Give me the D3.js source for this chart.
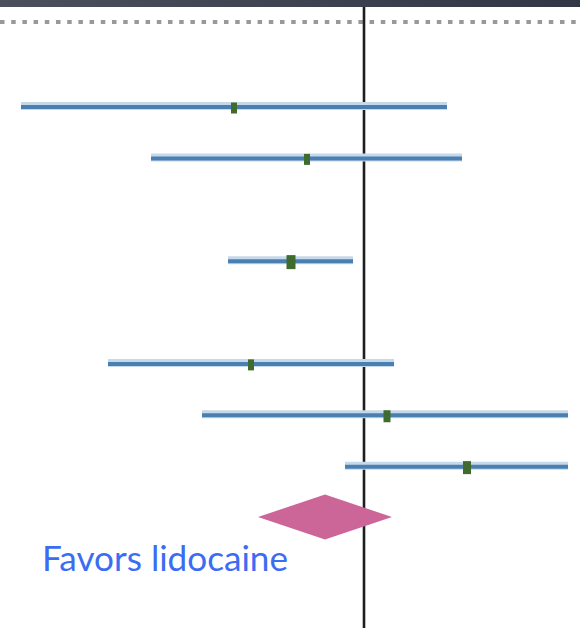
<!DOCTYPE html>
<html>
<head>
<meta charset="utf-8">
<script src="https://cdn.jsdelivr.net/npm/d3@7"></script>
<style>
  html, body { margin: 0; padding: 0; background: #ffffff; }
  svg { display: block; }
</style>
</head>
<body>
<svg id="chart" width="580" height="628"></svg>
<script>
// Study rows (row slot, effect estimate, lower and upper 95% CI, weight %)
const rowSlot  = [0, 1, 3, 5, 6, 7];
const estimate = [-2.60, -1.14, -1.46, -2.26, 0.46, 2.06];
const lower    = [-6.86, -4.26, -2.72, -5.12, -3.24, -0.38];
const upper    = [ 1.66,  1.96, -0.22,  0.60, 4.08, 4.08];
const weight   = [6, 6, 9, 6, 7, 8];

// Pooled estimate (diamond)
const pooledSlot = 8;
const pooled = { est: -0.78, lo: -2.12, hi: 0.56 };

const favorsLabel = "Favors lidocaine";

const W = 580, H = 628;
const svg = d3.select("#chart");

const x = d3.scaleLinear().domain([-7.28, 4.32]).range([0, W]);
const y = d3.scaleLinear().domain([0, 8]).range([106, 517]);
const boxW = d3.scaleLinear().domain([6, 9]).range([6, 9]);

// Header band across the top
const grad = svg.append("defs").append("linearGradient")
  .attr("id", "hdr").attr("x1", "0%").attr("x2", "100%");
grad.append("stop").attr("offset", "0%").attr("stop-color", "#4b505d");
grad.append("stop").attr("offset", "100%").attr("stop-color", "#323745");
svg.append("rect").attr("x", 0).attr("y", 0).attr("width", W).attr("height", 7)
  .attr("fill", "url(#hdr)");

// Dotted separator under the header
svg.append("line")
  .attr("x1", 0).attr("x2", W).attr("y1", 22).attr("y2", 22)
  .attr("stroke", "#999999").attr("stroke-width", 4)
  .attr("stroke-dasharray", "4.5,6.7");

// Line of no effect
svg.append("line")
  .attr("x1", x(0)).attr("x2", x(0)).attr("y1", 7).attr("y2", H)
  .attr("stroke", "#1e1e1e").attr("stroke-width", 2.6);

const rows = rowSlot.map((s, i) => ({
  slot: s, est: estimate[i], lo: lower[i], hi: upper[i], w: weight[i]
}));

const g = svg.append("g");

// Confidence intervals: soft halo plus darker core
g.selectAll("line.halo").data(rows).join("line")
  .attr("class", "halo")
  .attr("x1", d => x(d.lo)).attr("x2", d => x(d.hi))
  .attr("y1", d => y(d.slot)).attr("y2", d => y(d.slot))
  .attr("stroke", "#c6d9eb").attr("stroke-width", 8);

g.selectAll("line.ci").data(rows).join("line")
  .attr("class", "ci")
  .attr("x1", d => x(d.lo)).attr("x2", d => x(d.hi))
  .attr("y1", d => y(d.slot) + 1).attr("y2", d => y(d.slot) + 1)
  .attr("stroke", "#4a7fb1").attr("stroke-width", 4);

// Point estimates, sized by weight
g.selectAll("rect.pt").data(rows).join("rect")
  .attr("class", "pt")
  .attr("x", d => x(d.est) - boxW(d.w) / 2)
  .attr("y", d => y(d.slot) - (boxW(d.w) + 5) / 2 + 2)
  .attr("width", d => boxW(d.w))
  .attr("height", d => boxW(d.w) + 5)
  .attr("fill", "#3f6c2e");

// Pooled diamond
const py = y(pooledSlot);
const dh = 22.5;
svg.append("path")
  .attr("d", d3.line()([
    [x(pooled.lo), py], [x(pooled.est), py - dh],
    [x(pooled.hi), py], [x(pooled.est), py + dh]
  ]) + "Z")
  .attr("fill", "#cc6699");

// Direction label
const lbl = svg.append("text")
  .attr("x", 42).attr("y", 571)
  .attr("fill", "#3b6cf4")
  .attr("font-family", "Lato, 'Open Sans', sans-serif")
  .attr("font-size", 35)
  .text(favorsLabel);
lbl.attr("textLength", 246).attr("lengthAdjust", "spacingAndGlyphs");
</script>
</body>
</html>
